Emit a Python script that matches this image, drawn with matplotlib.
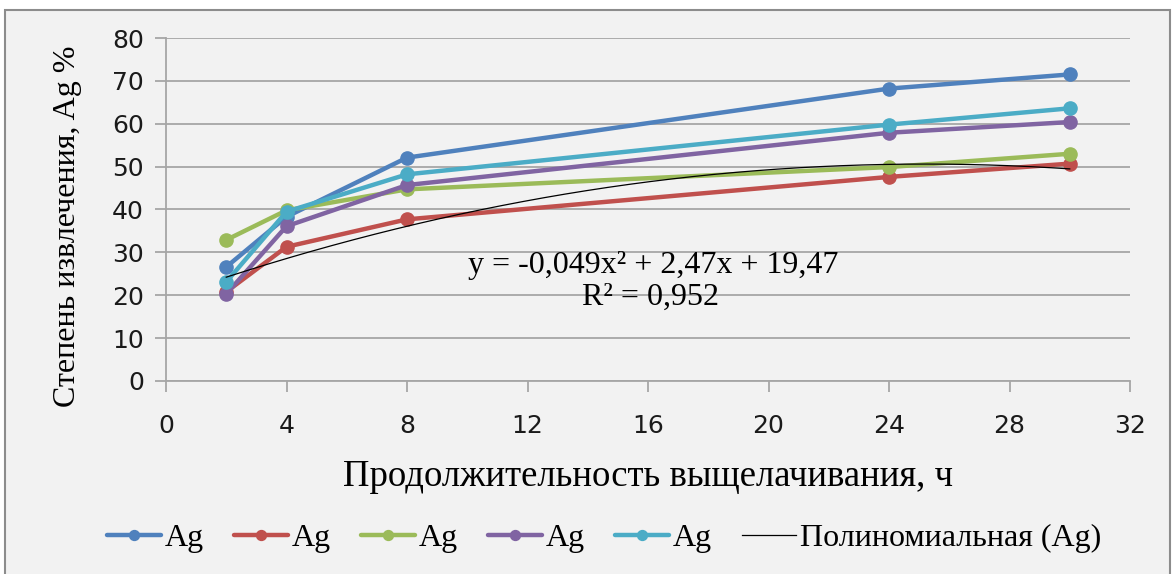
import matplotlib.pyplot as plt
import matplotlib.patches as mpatches
import numpy as np

# Leaching time, h
HOURS = [2, 4, 8, 24, 30]

# Silver extraction, % (five experiments, all labelled "Ag")
SERIES_1 = [26.6, 38.3, 52.1, 68.2, 71.5]
SERIES_2 = [20.8, 31.3, 37.7, 47.6, 50.7]
SERIES_3 = [32.9, 39.8, 44.7, 49.9, 53.0]
SERIES_4 = [20.3, 36.1, 45.7, 57.9, 60.4]
SERIES_5 = [23.1, 39.5, 48.2, 59.8, 63.6]
SERIES_LABELS = ["Ag", "Ag", "Ag", "Ag", "Ag"]

# Polynomial trendline shown on the chart: y = -0,049x² + 2,47x + 19,47
TREND_COEFFS = [-0.049, 2.47, 19.47]
TREND_RANGE = [2, 30]

X_TICKS = list(range(0, 33, 4))
Y_TICKS = list(range(0, 81, 10))

COLORS = ["#4F81BD", "#C0504D", "#9BBB59", "#8064A2", "#4BACC6"]
PANEL = "#F2F2F2"
GRID = "#A6A6A6"
SERIF = "Liberation Serif"
W, H = 1176, 574

figure = plt.figure(figsize=(W / 100, H / 100), dpi=100)
figure.patch.set_facecolor("white")
figure.patches.append(mpatches.Rectangle(
    (5 / W, -0.01), 1165 / W, 1 - 10 / H + 0.01,
    transform=figure.transFigure, facecolor=PANEL, edgecolor="#8C8C8C",
    linewidth=1.5, zorder=-5))

axis = figure.add_axes([166 / W, 1 - 381 / H, 964 / W, 343 / H])
axis.set_facecolor("none")

all_series = [SERIES_1, SERIES_2, SERIES_3, SERIES_4, SERIES_5]
handles = []
for values, color, label in zip(all_series, COLORS, SERIES_LABELS):
    (line,) = axis.plot(HOURS, values, color=color, linewidth=3.2, marker="o",
                        markersize=9.5, label=label, zorder=3,
                        solid_capstyle="round")
    handles.append(line)

trend_x = np.linspace(TREND_RANGE[0], TREND_RANGE[1], 200)
(trend_line,) = axis.plot(trend_x, np.polyval(TREND_COEFFS, trend_x), color="black",
                          linewidth=0.9, zorder=4, label="Полиномиальная (Ag)")
handles.append(trend_line)

figure.text(653 / W, 1 - 265 / H, "y = -0,049x² + 2,47x + 19,47",
            ha="center", va="center", fontsize=23, family=SERIF)
figure.text(651 / W, 1 - 297 / H, "R² = 0,952",
            ha="center", va="center", fontsize=23, family=SERIF)

axis.set_xlim(0, 32)
axis.set_ylim(0, 80)
axis.set_xticks(X_TICKS)
axis.set_yticks(Y_TICKS)
axis.grid(axis="y", color=GRID, linewidth=1.3)
axis.set_axisbelow(True)
for side in ("top", "right"):
    axis.spines[side].set_visible(False)
for side in ("left", "bottom"):
    axis.spines[side].set_color(GRID)
    axis.spines[side].set_linewidth(1.3)
axis.tick_params(axis="both", colors=GRID, length=8, width=1.3,
                 labelcolor="#1a1a1a", labelsize=18)
axis.tick_params(axis="x", pad=16)
axis.tick_params(axis="y", pad=8)

axis.set_xlabel("Продолжительность выщелачивания, ч", family=SERIF, fontsize=26.5)
axis.xaxis.set_label_coords((648 - 166) / 964, (381 - 460) / 343)
axis.set_ylabel("Степень извлечения, Ag %", family=SERIF, fontsize=23)
axis.yaxis.set_label_coords((82 - 166) / 964, 0.45)

figure.legend(handles=handles, loc="center", bbox_to_anchor=(604 / W, 1 - 538 / H),
              ncol=6, frameon=False, prop={"family": SERIF, "size": 23},
              handlelength=1.7, handletextpad=0.1, columnspacing=0.95,
              markerscale=0.75)

plt.savefig("out.png", dpi=100, facecolor="white")
